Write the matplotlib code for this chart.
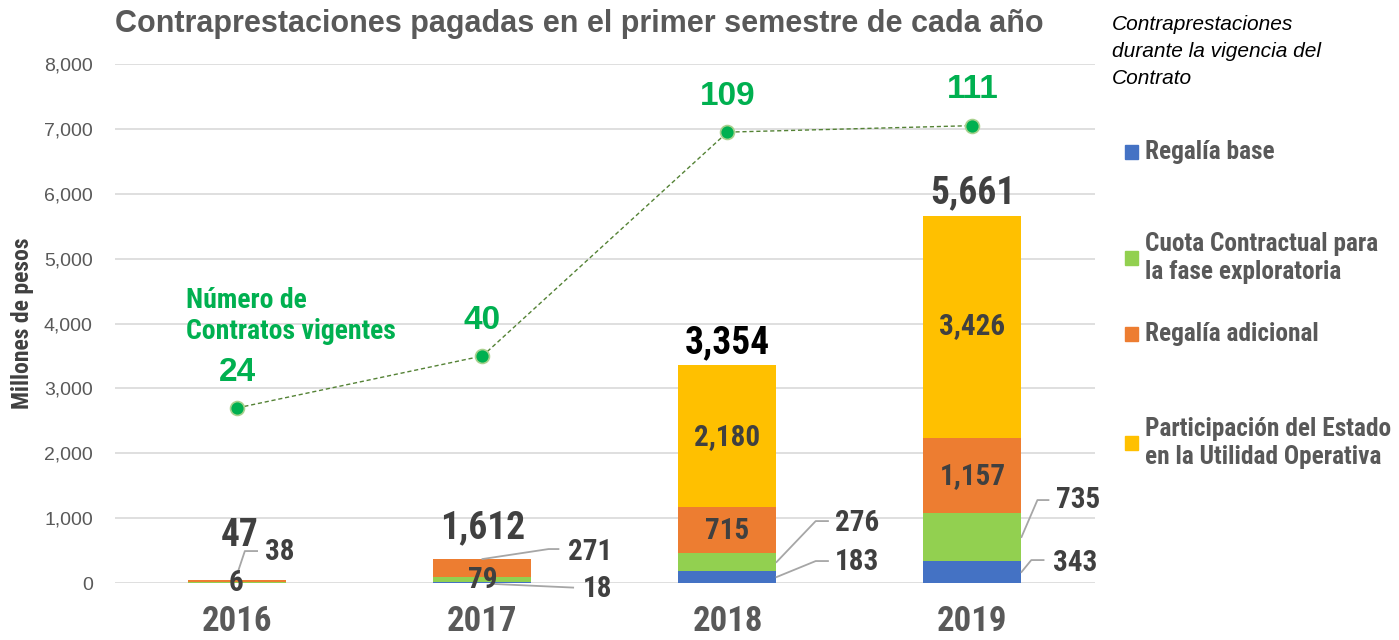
import numpy as np
import matplotlib.pyplot as plt
from matplotlib.patches import Rectangle

# Datos
years = ['2016', '2017', '2018', '2019']
regalia_base = [3, 18, 183, 343]
cuota_contractual = [6, 79, 276, 735]
regalia_adicional = [38, 271, 715, 1157]
participacion = [0, 0, 2180, 3426]
totales = [47, 1612, 3354, 5661]
contratos = [24, 40, 109, 111]

series_names = ['Regalía base', 'Cuota Contractual para\nla fase exploratoria',
                'Regalía adicional', 'Participación del Estado\nen la Utilidad Operativa']
colors = ['#4472C4', '#92D050', '#ED7D31', '#FFC000']

NARROW = ['Roboto Condensed', 'Archivo Narrow', 'DejaVu Sans']
REG = ['Liberation Sans', 'DejaVu Sans']
GRAY = '#595959'
DARK = '#404040'
GREEN = '#00B050'

fig = plt.figure(figsize=(13.99, 6.4), dpi=100)
ax = fig.add_axes([0.0822, 0.089, 0.7005, 0.811])

x = np.arange(len(years))
w = 0.4
bottom = np.zeros(len(years))
for vals, c in zip([regalia_base, cuota_contractual, regalia_adicional, participacion], colors):
    ax.bar(x, vals, w, bottom=bottom, color=c, zorder=2)
    bottom += np.array(vals)

ax.set_xlim(-0.5, 3.5)
ax.set_ylim(0, 8000)
ax.set_yticks(np.arange(0, 8001, 1000))
ax.set_yticklabels([f'{v:,}' for v in range(0, 8001, 1000)], fontsize=14, color=GRAY, family=REG)
ax.set_xticks(x)
ax.set_xticklabels(years, fontsize=25, fontweight='bold', color=GRAY, family=NARROW)
ax.tick_params(axis='both', length=0)
ax.tick_params(axis='y', pad=16)
ax.tick_params(axis='x', pad=16)
ax.grid(axis='y', color='#D9D9D9', linewidth=1.2, zorder=0)
for s in ax.spines.values():
    s.set_visible(False)
ax.set_ylabel('Millones de pesos', fontsize=17, fontweight='bold', color=DARK, family=NARROW, labelpad=7)

# totales
tot_pos = [(0.01, 740), (0, 848), (0, 3700), (0, 6010)]
for i, t in enumerate(totales):
    dx, yy = tot_pos[i]
    col = 'black' if i == 2 else DARK
    ax.text(x[i] + dx, yy, f'{t:,}', ha='center', va='center', fontsize=27,
            fontweight='bold', color=col, family=NARROW, zorder=4)

# etiquetas internas
def lab(xx, yy, v, size=21):
    ax.text(xx, yy, f'{v:,}', ha='center', va='center', fontsize=size,
            fontweight='bold', color=DARK, family=NARROW, zorder=4)

lab(x[2], 2250, participacion[2])
lab(x[2], 801, regalia_adicional[2])
lab(x[3], 3960, participacion[3])
lab(x[3], 1649, regalia_adicional[3])
lab(x[0] - 0.005, 0, cuota_contractual[0])
lab(x[1], 46, cuota_contractual[1])

# etiquetas con guia
def leader(pts, tx, ty, v):
    xs = [p[0] for p in pts]
    ys = [p[1] for p in pts]
    ax.plot(xs, ys, color='#A6A6A6', linewidth=1.3, zorder=3, clip_on=False)
    ax.text(tx, ty, f'{v:,}', ha='left', va='center', fontsize=21,
            fontweight='bold', color=DARK, family=NARROW, zorder=4, clip_on=False)

leader([(0.0, 154), (0.03, 493), (0.08, 493)], 0.114, 478, regalia_adicional[0])
leader([(1.0, 370), (1.27, 524), (1.31, 524)], 1.35, 478, regalia_adicional[1])
leader([(1.05, -15), (1.37, -70)], 1.41, -92, regalia_base[1])
leader([(2.2, 323), (2.36, 955), (2.41, 955)], 2.44, 925, cuota_contractual[2])
leader([(2.2, 92), (2.36, 339), (2.41, 339)], 2.44, 324, regalia_base[2])
leader([(3.2, 709), (3.265, 1279), (3.31, 1279)], 3.34, 1279, cuota_contractual[3])
leader([(3.2, 170), (3.24, 354), (3.29, 354)], 3.33, 308, regalia_base[3])

# numero de contratos (eje secundario)
ax2 = ax.twinx()
ax2.set_ylim(-30, 130)
ax2.axis('off')
ax2.plot(x, contratos, linestyle=(0, (3, 2)), color='#548235', linewidth=1,
         marker='o', markersize=10, markerfacecolor=GREEN, markeredgecolor='#A9D18E',
         markeredgewidth=1.2, zorder=5)
for xi, c in zip(x, contratos):
    ax2.text(xi, c + 11, str(c), ha='center', va='center', fontsize=24,
             fontweight='bold', color=GREEN, family=REG)
ax2.text(-0.21, 52.3, 'Número de\nContratos vigentes', ha='left', va='center', fontsize=20,
         fontweight='bold', color=GREEN, family=NARROW, linespacing=1.2)

fig.text(0.082, 0.962, 'Contraprestaciones pagadas en el primer semestre de cada año',
         ha='left', va='center', fontsize=22, fontweight='bold', color=GRAY, family=REG)

# leyenda manual
fig.text(1112 / 1399, 1 - 15 / 640, 'Contraprestaciones\ndurante la vigencia del\nContrato',
         ha='left', va='top', fontsize=15, fontstyle='italic', color='black', family=REG,
         linespacing=1.55)
leg_y = [152, 258, 334, 443]
for name, c, py in zip(series_names, colors, leg_y):
    yf = 1 - py / 640
    fig.patches.append(Rectangle((1125 / 1399, yf - 7 / 640), 13 / 1399, 14 / 640,
                                 transform=fig.transFigure, color=c))
    fig.text(1145 / 1399, yf, name, ha='left', va='center', fontsize=18.3, fontweight='bold',
             color=GRAY, family=NARROW, linespacing=1.25)

fig.savefig('out.png', dpi=100)
